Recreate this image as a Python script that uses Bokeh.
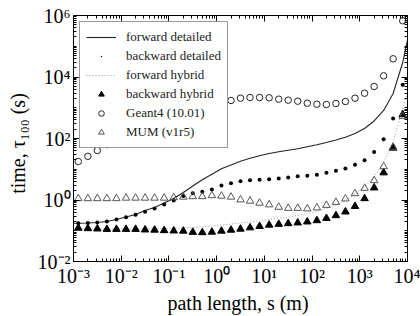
from bokeh.plotting import figure
from bokeh.models import LogAxis, FixedTicker, Legend, LegendItem, Range1d
from bokeh.embed import file_html
from bokeh.resources import INLINE

# path length s (m) at which the marker series are sampled
path_length = [0.00126, 0.002, 0.00316, 0.005, 0.00794, 0.0126, 0.02, 0.0316,
               0.05, 0.0794, 0.126, 0.2, 0.316, 0.5, 0.794, 1.26, 2.0, 3.16,
               5.0, 7.94, 12.6, 20.0, 31.6, 50.0, 79.4, 126.0, 200.0, 316.0,
               500.0, 794.0, 1260.0, 2000.0, 3160.0, 5000.0, 7940.0]

# continuous curves span the full axis range
curve_length = [0.001] + path_length + [10000.0]

forward_detailed = [0.176, 0.176, 0.179, 0.185, 0.200, 0.232, 0.280, 0.337,
                    0.456, 0.570, 0.798, 1.12, 1.75, 2.85, 4.54, 6.85, 10.4,
                    13.8, 18.3, 22.7, 27.4, 32.5, 36.9, 41.3, 46.2, 53.7, 62.4,
                    74.1, 89.3, 110.0, 146.0, 211.0, 371.0, 815.0, 2900.0,
                    29600.0, 158000.0]

backward_detailed = [0.176, 0.179, 0.185, 0.200, 0.232, 0.276, 0.333, 0.413,
                     0.530, 0.714, 0.964, 1.35, 1.66, 1.85, 2.19, 2.96, 3.52,
                     4.08, 4.41, 4.57, 4.74, 5.00, 5.40, 5.94, 6.17, 6.65,
                     7.76, 8.91, 10.6, 14.1, 19.8, 36.7, 93.8, 447.0, 5570.0]

forward_hybrid = [0.1156, 0.1156, 0.1148, 0.1140, 0.1140, 0.1140, 0.1140,
                  0.1148, 0.1156, 0.1167, 0.1183, 0.1202, 0.1239, 0.1276,
                  0.1343, 0.1426, 0.1538, 0.1660, 0.1786, 0.1928, 0.2109,
                  0.2323, 0.2541, 0.2799, 0.3133, 0.3639, 0.4295, 0.5297,
                  0.6871, 0.9638, 1.549, 2.630, 5.808, 16.60, 79.80, 946.0,
                  3133.0]

backward_hybrid = [0.1227, 0.1183, 0.1156, 0.1122, 0.1122, 0.1122, 0.1122,
                   0.1074, 0.1057, 0.1019, 0.0995, 0.0982, 0.0897, 0.0877,
                   0.0910, 0.0982, 0.1057, 0.1140, 0.1256, 0.1396, 0.1538,
                   0.1633, 0.1722, 0.1816, 0.1954, 0.2153, 0.2541, 0.3133,
                   0.4130, 0.6237, 1.119, 2.495, 7.727, 49.09, 602.6]

# None where the point lies under the legend box
geant4 = [17.8, 26.3, 40.7, 63.1, None, None, None, None, None, None, None,
          None, None, None, None, None, 1722.0, 2046.0, 2153.0, 2153.0,
          2109.0, 1897.0, 1762.0, 1633.0, 1406.0, 1303.0, 1276.0, 1374.0,
          1596.0, 2046.0, 2972.0, 4909.0, 10940.0, 39080.0, 673000.0]

mum = [1.119, 1.119, 1.119, 1.119, 1.119, 1.161, 1.161, 1.161, 1.161, 1.161,
       1.205, 1.253, 1.300, 1.300, 1.400, 1.349, 1.253, 1.023, 0.927, 0.798,
       0.703, 0.587, 0.541, 0.541, 0.518, 0.562, 0.676, 0.847, 1.094, 1.626,
       2.421, 4.305, 12.27, 52.12, 530.9]

x_ticks = [1e-3, 1e-2, 1e-1, 1e0, 1e1, 1e2, 1e3, 1e4]
x_tick_labels = ["10⁻³", "10⁻²", "10⁻¹", "10⁰", "10¹", "10²", "10³", "10⁴"]
y_ticks = [1e-2, 1e0, 1e2, 1e4, 1e6]
y_tick_labels = ["10⁻²", "10⁰", "10²", "10⁴", "10⁶"]

SERIF = "Liberation Serif"

x_minor = [m * 10.0 ** e for e in range(-3, 4) for m in range(2, 10)]
y_minor = [m * 10.0 ** e for e in range(-2, 6) for m in range(1, 10)
           if not (m == 1 and e % 2 == 0)]

p = figure(width=420, height=316, x_axis_type="log", y_axis_type="log",
           x_range=Range1d(1e-3, 1e4), y_range=Range1d(1e-2, 1e6),
           output_backend="svg", toolbar_location=None,
           min_border_left=73, min_border_right=13,
           min_border_top=15, min_border_bottom=55)
p.grid.visible = False
p.outline_line_color = "black"
p.outline_line_width = 1
p.background_fill_color = "white"
p.border_fill_color = "white"

x_ticker = FixedTicker(ticks=x_ticks, minor_ticks=x_minor)
y_ticker = FixedTicker(ticks=y_ticks, minor_ticks=y_minor)


def style_axis(ax, ticker, labels=None):
    ax.ticker = ticker
    ax.axis_line_color = "black"
    ax.axis_line_width = 1
    ax.major_tick_in = 6
    ax.major_tick_out = 0
    ax.minor_tick_in = 3
    ax.minor_tick_out = 0
    ax.major_tick_line_color = "black"
    ax.minor_tick_line_color = "black"
    if labels is None:
        # mirrored axis: ticks only
        ax.major_label_text_font_size = "1px"
        ax.major_label_text_alpha = 0
        ax.major_label_standoff = 0
    else:
        ax.major_label_overrides = dict(zip(ticker.ticks, labels))
        ax.major_label_text_font = SERIF
        ax.major_label_text_font_size = "20px"
        ax.major_label_text_color = "black"
        ax.major_label_standoff = 3


style_axis(p.xaxis[0], x_ticker, x_tick_labels)
style_axis(p.yaxis[0], y_ticker, y_tick_labels)

p.xaxis.axis_label = "path length,  s (m)"
p.yaxis.axis_label = "time,  τ₁₀₀  (s)"
for ax in (p.xaxis[0], p.yaxis[0]):
    ax.axis_label_text_font = SERIF
    ax.axis_label_text_font_size = "20px"
    ax.axis_label_text_font_style = "normal"
    ax.axis_label_text_color = "black"
p.xaxis[0].axis_label_standoff = 2
p.yaxis[0].axis_label_standoff = 6

top_axis = LogAxis()
style_axis(top_axis, x_ticker)
p.add_layout(top_axis, "above")
right_axis = LogAxis()
style_axis(right_axis, y_ticker)
p.add_layout(right_axis, "right")

g4_x = [s for s, t in zip(path_length, geant4) if t is not None]
g4_y = [t for t in geant4 if t is not None]

r_fd = p.line(curve_length, forward_detailed, line_color="#222222",
              line_width=1.1)
r_bd = p.scatter(path_length, backward_detailed, marker="dot", size=16,
                 line_color="black", fill_color="black")
r_fh = p.line(curve_length, forward_hybrid, line_color="#9a9a9a",
              line_width=1, line_dash="1 2")
r_bh = p.scatter(path_length, backward_hybrid, marker="triangle", size=7.5,
                 fill_color="black", line_color="black")
r_g4 = p.scatter(g4_x, g4_y, marker="circle", size=6.5,
                 fill_color=None, line_color="#222222", line_width=1)
r_mum = p.scatter(path_length, mum, marker="triangle", size=7.5,
                  fill_color=None, line_color="#555555", line_width=1)

legend = Legend(items=[
    LegendItem(label="forward detailed", renderers=[r_fd]),
    LegendItem(label="backward detailed", renderers=[r_bd]),
    LegendItem(label="forward hybrid", renderers=[r_fh]),
    LegendItem(label="backward hybrid", renderers=[r_bh]),
    LegendItem(label="Geant4 (10.01)", renderers=[r_g4]),
    LegendItem(label="MUM (v1r5)", renderers=[r_mum]),
], location="top_left")
legend.margin = 6
legend.padding = 6
legend.spacing = 1
legend.glyph_width = 30
legend.glyph_height = 14
legend.label_height = 18
legend.label_standoff = 10
legend.label_text_font = SERIF
legend.label_text_font_size = "13px"
legend.label_text_color = "#222222"
legend.border_line_color = "#333333"
legend.border_line_width = 1
legend.background_fill_color = "white"
legend.background_fill_alpha = 1.0
p.add_layout(legend)

open("out.html", "w").write(file_html(p, INLINE))
